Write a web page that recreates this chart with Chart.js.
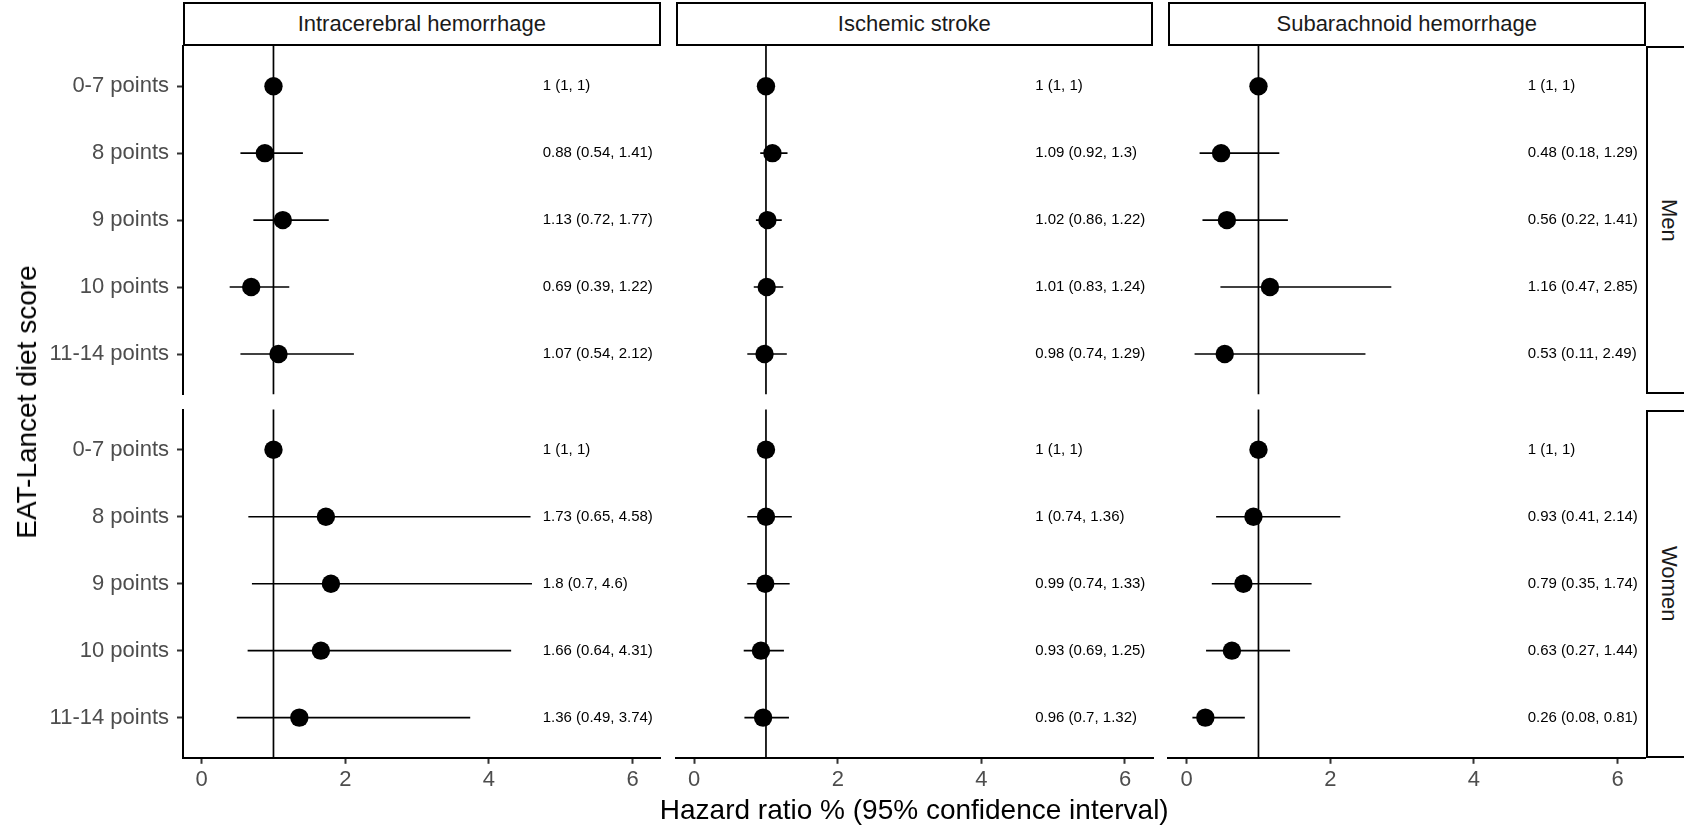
<!DOCTYPE html>
<html><head><meta charset="utf-8">
<script src="https://cdn.jsdelivr.net/npm/chart.js@4.4.1/dist/chart.umd.min.js"></script>
<style>
html,body{margin:0;padding:0;background:#fff;overflow:hidden;width:1684px;height:828px;}
#wrap{position:relative;width:1684px;height:828px;font-family:"Liberation Sans",Arial,sans-serif;overflow:hidden;}
canvas{position:absolute;left:0;top:0;}
.strip{position:absolute;box-sizing:border-box;border:2px solid #000;display:flex;align-items:center;justify-content:center;color:#1a1a1a;font-size:22px;background:#fff;white-space:nowrap;}
.vtext{writing-mode:vertical-rl;}
.title{position:absolute;color:#000;font-size:28px;white-space:nowrap;line-height:1;}
</style></head><body><div id="wrap"></div>
<script>
// ---------------- data ----------------
const categories = ['0-7 points', '8 points', '9 points', '10 points', '11-14 points'];
const outcomes = ['Intracerebral hemorrhage', 'Ischemic stroke', 'Subarachnoid hemorrhage'];
const sexes = ['Men', 'Women'];
const xTickValues = [0, 2, 4, 6];
const refValue = 1;

const ichMenHR = [1, 0.88, 1.13, 0.69, 1.07];
const ichMenLo = [1, 0.54, 0.72, 0.39, 0.54];
const ichMenHi = [1, 1.41, 1.77, 1.22, 2.12];
const ichWomenHR = [1, 1.73, 1.8, 1.66, 1.36];
const ichWomenLo = [1, 0.65, 0.7, 0.64, 0.49];
const ichWomenHi = [1, 4.58, 4.6, 4.31, 3.74];

const isMenHR = [1, 1.09, 1.02, 1.01, 0.98];
const isMenLo = [1, 0.92, 0.86, 0.83, 0.74];
const isMenHi = [1, 1.3, 1.22, 1.24, 1.29];
const isWomenHR = [1, 1, 0.99, 0.93, 0.96];
const isWomenLo = [1, 0.74, 0.74, 0.69, 0.7];
const isWomenHi = [1, 1.36, 1.33, 1.25, 1.32];

const sahMenHR = [1, 0.48, 0.56, 1.16, 0.53];
const sahMenLo = [1, 0.18, 0.22, 0.47, 0.11];
const sahMenHi = [1, 1.29, 1.41, 2.85, 2.49];
const sahWomenHR = [1, 0.93, 0.79, 0.63, 0.26];
const sahWomenLo = [1, 0.41, 0.35, 0.27, 0.08];
const sahWomenHi = [1, 2.14, 1.74, 1.44, 0.81];

const panelData = [
  [{hr: ichMenHR, lo: ichMenLo, hi: ichMenHi}, {hr: ichWomenHR, lo: ichWomenLo, hi: ichWomenHi}],
  [{hr: isMenHR, lo: isMenLo, hi: isMenHi}, {hr: isWomenHR, lo: isWomenLo, hi: isWomenHi}],
  [{hr: sahMenHR, lo: sahMenLo, hi: sahMenHi}, {hr: sahWomenHR, lo: sahWomenLo, hi: sahWomenHi}]
];

// ---------------- layout ----------------
const W = 1684, H = 828;
const FONT = '"Liberation Sans", Arial, sans-serif';
const colLeft = [183, 675.5, 1168];
const panelW = 477.5;
const rowTop = [46, 409.6];
const rowBottom = [394.2, 757.8];
const xMin = -0.26, xMax = 6.39;
const labelX = 4.75;
const XH = 40;

const wrap = document.getElementById('wrap');

function makePlugin(d) {
  return {
    id: 'panelDecor',
    beforeDatasetsDraw(chart) {
      const {ctx, chartArea, scales} = chart;
      const px = scales.x.getPixelForValue(refValue);
      ctx.save();
      ctx.strokeStyle = '#000';
      ctx.lineWidth = 1.7;
      ctx.beginPath();
      ctx.moveTo(px, chartArea.top);
      ctx.lineTo(px, chartArea.bottom);
      ctx.stroke();
      ctx.restore();
    },
    afterDatasetsDraw(chart) {
      const {ctx, scales} = chart;
      ctx.save();
      ctx.fillStyle = '#000';
      ctx.font = '15px ' + FONT;
      ctx.textAlign = 'left';
      ctx.textBaseline = 'middle';
      const tx = scales.x.getPixelForValue(labelX);
      categories.forEach((_, i) => {
        const ty = scales.y.getPixelForValue(i);
        ctx.fillText(`${d.hr[i]} (${d.lo[i]}, ${d.hi[i]})`, tx, ty);
      });
      ctx.restore();
    }
  };
}

function makeChart(r, c) {
  const canvas = document.createElement('canvas');
  canvas.width = W; canvas.height = H;
  canvas.style.width = W + 'px'; canvas.style.height = H + 'px';
  wrap.appendChild(canvas);
  const d = panelData[c][r];
  const L = colLeft[c], R = L + panelW, T = rowTop[r], B = rowBottom[r];
  const showY = c === 0, showX = r === 1;
  const tickFont = {family: FONT, size: 22};
  new Chart(canvas, {
    type: 'bar',
    data: {
      datasets: [
        {
          type: 'bar',
          data: categories.map((_, i) => ({y: i, x: [d.lo[i], d.hi[i]]})),
          backgroundColor: '#000', borderWidth: 0, barThickness: 1.6, inflateAmount: 0, order: 2
        },
        {
          type: 'scatter', indexAxis: 'x',
          data: categories.map((_, i) => ({x: d.hr[i], y: i})),
          pointRadius: 9.2, pointBackgroundColor: '#000', pointBorderWidth: 0, order: 1
        }
      ]
    },
    options: {
      indexAxis: 'y', responsive: false, animation: false, events: [], devicePixelRatio: 1,
      layout: {padding: {left: showY ? 0 : L, right: W - R, top: T, bottom: showX ? H - B - XH : H - B}},
      plugins: {legend: {display: false}, tooltip: {enabled: false}, title: {display: false}},
      scales: {
        x: {
          type: 'linear', min: xMin, max: xMax, display: showX, offset: false, beginAtZero: false,
          afterBuildTicks: s => { s.ticks = xTickValues.map(v => ({value: v})); },
          afterFit: s => { if (showX) s.height = XH; },
          border: {display: true, color: '#000', width: 2},
          grid: {offset: false, drawOnChartArea: false, drawTicks: true, tickLength: 6, tickColor: '#333', tickWidth: 2},
          ticks: {font: tickFont, color: '#4d4d4d', padding: 3, maxRotation: 0, autoSkip: false,
                  callback: v => String(v)}
        },
        y: {
          type: 'linear', min: -0.6, max: categories.length - 0.4, reverse: true, display: showY, offset: false,
          afterBuildTicks: s => { s.ticks = categories.map((_, i) => ({value: i})); },
          afterFit: s => { if (showY) s.width = L; },
          border: {display: true, color: '#000', width: 2},
          grid: {offset: false, drawOnChartArea: false, drawTicks: true, tickLength: 6, tickColor: '#333', tickWidth: 2},
          ticks: {font: tickFont, color: '#4d4d4d', padding: 8, autoSkip: false,
                  callback: v => categories[v]}
        }
      }
    },
    plugins: [makePlugin(d)]
  });
}

for (let r = 0; r < sexes.length; r++) {
  for (let c = 0; c < outcomes.length; c++) makeChart(r, c);
}

// strips
outcomes.forEach((name, c) => {
  const s = document.createElement('div');
  s.className = 'strip';
  s.style.left = colLeft[c] + 'px';
  s.style.top = '2px';
  s.style.width = panelW + 'px';
  s.style.height = (rowTop[0] - 2) + 'px';
  s.textContent = name;
  wrap.appendChild(s);
});
sexes.forEach((name, r) => {
  const s = document.createElement('div');
  s.className = 'strip';
  s.style.left = (colLeft[2] + panelW + 0.5) + 'px';
  s.style.top = rowTop[r] + 'px';
  s.style.width = '60px';
  s.style.height = (rowBottom[r] - rowTop[r]) + 'px';
  s.style.justifyContent = 'flex-start';
  s.style.paddingLeft = '8px';
  const t = document.createElement('span');
  t.className = 'vtext';
  t.textContent = name;
  s.appendChild(t);
  wrap.appendChild(s);
});

// axis titles
const xt = document.createElement('div');
xt.className = 'title';
xt.textContent = 'Hazard ratio % (95% confidence interval)';
xt.style.left = (colLeft[0] + (colLeft[2] + panelW - colLeft[0]) / 2) + 'px';
xt.style.top = '795.5px';
xt.style.transform = 'translateX(-50%)';
wrap.appendChild(xt);

const yt = document.createElement('div');
yt.className = 'title';
yt.textContent = 'EAT-Lancet diet score';
yt.style.left = '27px';
yt.style.top = ((rowTop[0] + rowBottom[1]) / 2) + 'px';
yt.style.transform = 'translate(-50%,-50%) rotate(-90deg)';
wrap.appendChild(yt);
</script>
</body></html>
